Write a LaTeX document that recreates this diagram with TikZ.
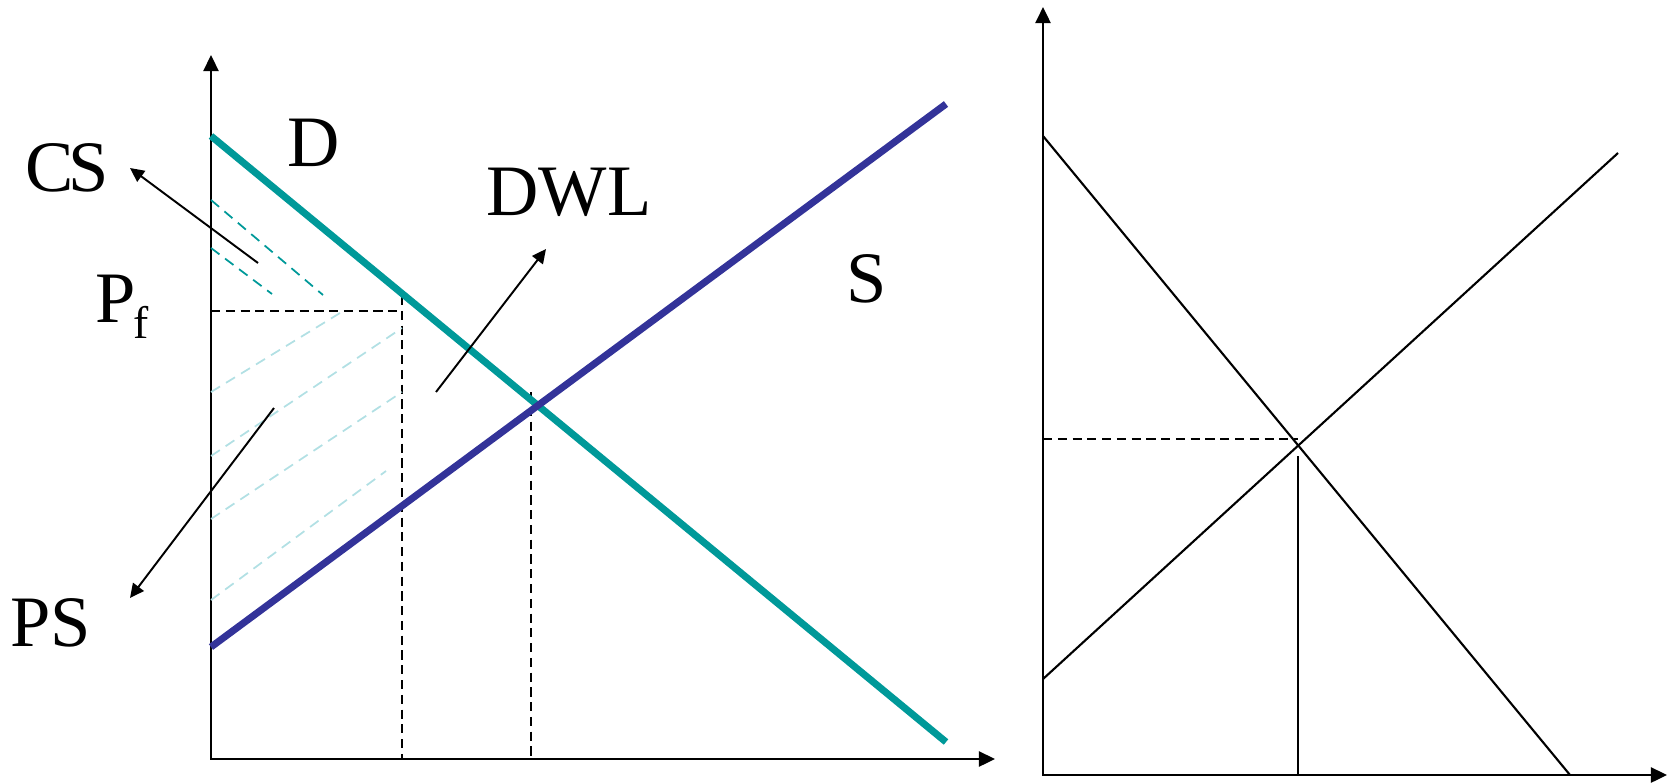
\documentclass[tikz,border=0pt]{standalone}
\usepackage{fontspec}
\setmainfont{Liberation Serif}
\usetikzlibrary{arrows.meta}
\tikzset{every picture/.style={line width=0.75pt}}
\definecolor{demandteal}{RGB}{0,153,153}
\definecolor{supplyblue}{RGB}{51,51,153}
\definecolor{hatchlight}{RGB}{178,224,228}

\begin{document}
\begin{tikzpicture}[x=0.01cm, y=-0.01cm, >={Triangle[length=4.6pt,width=4.3pt]},
    axis/.style={line width=0.7pt, line join=miter},
    curveD/.style={line width=2pt, demandteal},
    curveS/.style={line width=2pt, supplyblue},
    guide/.style={line width=0.5pt, dash pattern=on 2.6pt off 1.6pt},
    cshatch/.style={line width=0.5pt, demandteal, dash pattern=on 3pt off 2pt},
    pshatch/.style={line width=0.5pt, hatchlight, dash pattern=on 3pt off 2pt},
    pointer/.style={line width=0.55pt, -{Triangle[length=4pt,width=3.8pt]}},
    thin/.style={line width=0.6pt},
    lbl/.style={font=\fontsize{20.6}{24}\selectfont, inner sep=0pt}]
    \useasboundingbox (0,0) rectangle (1674,782);

    % 左图：坐标轴
    \coordinate (ytop) at (211,55);
    \coordinate (O) at (211,759);
    \coordinate (xend) at (995,759);
    \draw[axis, <->] (ytop) -- (O) -- (xend);

    % 价格上限与数量（虚线）
    \coordinate (pf) at (211,311);
    \coordinate (pfend) at (400,311);
    \coordinate (qf) at (402,296);
    \coordinate (qfbase) at (402,759);
    \coordinate (qe) at (531,392);
    \coordinate (qebase) at (531,759);
    \draw[guide] (pf) -- (pfend);
    \draw[guide] (qf) -- (qfbase);
    \draw[guide] (qe) -- (qebase);

    % 阴影线
    \foreach \a/\b/\c/\d in {211/200/323/295, 211/248/272/294}
        \draw[cshatch] (\a,\b) -- (\c,\d);
    \foreach \a/\b/\c/\d in {211/392/340/313, 211/456/402/328, 211/519/402/392, 211/600/386/471}
        \draw[pshatch] (\a,\b) -- (\c,\d);

    % 需求与供给曲线
    \coordinate (D0) at (211,136);
    \coordinate (D1) at (946,742);
    \coordinate (S0) at (211,647);
    \coordinate (S1) at (946,104);
    \draw[curveD] (D0) -- (D1);
    \draw[curveS] (S0) -- (S1);

    % 标注
    \node[lbl] (cs) at (67,168) {C\kern-1.5pt S};
    \node[lbl] (dlab) at (314,143) {D};
    \node[lbl] (dwl) at (569,192) {DWL};
    \node[lbl] (slab) at (867,279) {S};
    \node[lbl] (ps) at (51,623) {PS};
    \node[lbl, anchor=base west] (pflab) at (94,322)
        {P\hspace{-0.5pt}\raisebox{-4.8pt}{\fontsize{13}{16}\selectfont f}};

    % 指示箭头
    \coordinate (csfrom) at (258,263);
    \coordinate (csto) at (130,168);
    \coordinate (psfrom) at (274,408);
    \coordinate (psto) at (130,598);
    \coordinate (dwlfrom) at (436,392);
    \coordinate (dwlto) at (546,249);
    \draw[pointer] (csfrom) -- (csto);
    \draw[pointer] (psfrom) -- (psto);
    \draw[pointer] (dwlfrom) -- (dwlto);

    % 右图
    \coordinate (ytop2) at (1043,7);
    \coordinate (O2) at (1043,775);
    \coordinate (xend2) at (1667,775);
    \draw[axis, <->] (ytop2) -- (O2) -- (xend2);
    \coordinate (D20) at (1043,136);
    \coordinate (D21) at (1570,775);
    \coordinate (S20) at (1043,679);
    \coordinate (S21) at (1618,153);
    \draw[thin] (D20) -- (D21);
    \draw[thin] (S20) -- (S21);
    \coordinate (pe2) at (1043,439);
    \coordinate (pe2end) at (1298,439);
    \coordinate (qe2) at (1298,456);
    \coordinate (qe2base) at (1298,775);
    \draw[guide] (pe2) -- (pe2end);
    \draw[thin] (qe2) -- (qe2base);
\end{tikzpicture}
\end{document}
